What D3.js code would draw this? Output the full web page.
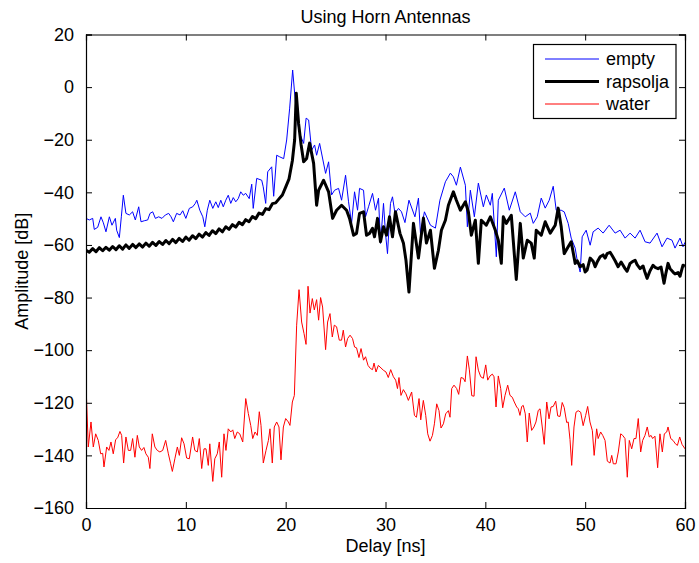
<!DOCTYPE html>
<html>
<head>
<meta charset="utf-8">
<script src="https://cdn.jsdelivr.net/npm/d3@7"></script>
<style>
  html, body { margin: 0; padding: 0; background: #fff; }
  svg { display: block; }
  text { font-family: "Liberation Sans", Arial, Helvetica, sans-serif; fill: #000; }
</style>
</head>
<body>
<svg id="chart" width="699" height="563"></svg>
<script>
const titleText = "Using Horn Antennas";
const xLabel = "Delay [ns]";
const yLabel = "Amplitude [dB]";
const xTicks = [0, 10, 20, 30, 40, 50, 60];
const yTicks = [20, 0, -20, -40, -60, -80, -100, -120, -140, -160];
const seriesNames = ["empty", "rapsolja", "water"];

const emptyDelay = [0,0.33,0.67,0.83,1.17,1.5,1.74,2.0,2.34,2.6,2.94,3.07,3.34,3.54,3.74,4.0,4.34,4.67,4.94,5.28,5.51,5.84,6.18,6.41,6.68,6.95,7.28,7.61,7.95,8.28,8.52,8.75,9.08,9.42,9.69,10.0,10.35,10.69,10.95,11.1,11.4,11.7,11.9,12.15,12.4,12.7,13.0,13.25,13.5,13.75,14.0,14.25,14.5,14.75,15.0,15.25,15.5,15.75,16.0,16.35,16.6,16.75,17.1,17.6,17.75,18.0,18.2,18.6,18.8,19.1,19.4,19.8,20.1,20.4,20.7,21.1,21.4,21.8,22.05,22.3,22.6,22.9,23.1,23.4,24.0,24.3,24.6,24.9,25.3,25.6,26.0,26.3,26.6,26.9,27.2,27.4,27.8,28.0,28.3,28.7,29.0,29.3,29.5,29.8,30.0,30.2,30.5,30.7,30.95,31.3,31.6,31.95,32.35,32.95,33.3,33.5,33.9,34.5,35.0,35.45,36.0,36.5,36.8,37.1,37.5,38.0,38.2,38.5,38.9,39.3,39.8,40.1,40.5,40.7,41.1,41.3,41.9,42.4,43.0,43.5,44.0,44.5,44.8,45.2,45.6,46.0,46.4,46.8,47.1,47.6,47.9,48.3,48.6,49.0,49.2,49.5,49.7,50.1,50.5,50.8,51.3,51.8,52.4,53.0,53.5,54.0,54.5,55.0,55.5,56.0,56.5,57.2,57.7,58.2,58.7,59.0,59.5,59.8,60];
const emptyAmp = [-49.9,-50.5,-49.9,-54.1,-53.3,-49.3,-51.6,-55,-49.3,-52.5,-49.9,-54.4,-57.2,-49.3,-41.1,-48,-48.6,-47.4,-50.5,-45.5,-51.2,-50.8,-50.5,-48,-47.4,-49.9,-49.3,-49.9,-48.6,-48,-49.3,-51.2,-48,-48.6,-47,-49.9,-46.1,-45.5,-44.2,-43,-46.8,-49.3,-53.1,-46.8,-43,-46.1,-43.6,-45.8,-43,-45.5,-43,-41.1,-44.2,-42,-43.6,-42.4,-39.8,-41.1,-40.4,-42.4,-36.9,-46.1,-34.7,-35.4,-37.9,-44.2,-32.2,-30.3,-41.5,-25.9,-26.5,-27.2,-20.1,-8,6.5,-11.3,-17.6,-21.4,-11.8,-12.5,-24,-22,-25.9,-21.4,-32.8,-28.4,-41,-39.2,-38.5,-43,-33.5,-43.6,-51.8,-39.8,-46.8,-38.5,-39.2,-49.3,-45.5,-40.4,-46.8,-42.2,-59.4,-44.2,-55.6,-63.3,-44.2,-41.7,-48,-46.1,-47.4,-51.5,-43,-49.3,-42.2,-55.5,-47.4,-52.5,-53.6,-43,-36,-32.7,-34.1,-37.3,-30.4,-37.3,-53.1,-39.2,-49.3,-36.5,-45.5,-41,-44.9,-40.4,-64.5,-43,-38.4,-46.8,-39.8,-47.4,-49.3,-47.9,-51.8,-49.3,-42.2,-46,-43,-37.7,-46.8,-46.8,-47.4,-51.8,-57.4,-61.2,-65.8,-70.3,-56.9,-54.4,-60.1,-55,-53.6,-55.5,-52.5,-55.5,-54.4,-57.4,-55.5,-57.4,-54.4,-58.8,-59.3,-55.5,-60.7,-57.4,-58.2,-61.2,-57.4,-60.7,-59];

const rapsoljaDelay = [0,0.33,0.67,1.0,1.33,1.67,2.0,2.33,2.67,3.0,3.33,3.67,4.0,4.33,4.67,5.0,5.33,5.67,6.0,6.33,6.67,7.0,7.33,7.67,8.0,8.33,8.67,9.0,9.33,9.67,10.0,10.33,10.67,11.0,11.33,11.67,12.0,12.33,12.67,13.0,13.33,13.67,14.0,14.33,14.67,15.0,15.33,15.67,16.0,16.33,16.67,17.0,17.33,17.67,18.0,18.33,18.67,19.0,19.33,19.67,20.0,20.33,20.67,20.9,21.06,21.3,21.55,21.8,22.1,22.4,22.8,23.1,23.3,23.8,24.3,24.7,25.1,25.6,26.1,26.4,26.8,27.1,27.4,27.8,28.1,28.4,28.7,28.9,29.2,29.5,29.8,30.1,30.4,30.7,31.0,31.45,31.8,32.05,32.35,32.8,33.3,33.8,34.1,34.5,34.9,35.3,35.6,36.0,36.3,36.8,37.1,37.5,38.0,38.3,38.6,39.0,39.3,39.6,40.1,40.5,41.0,41.3,41.6,41.8,42.1,42.6,43.1,43.5,43.8,44.2,44.6,44.9,45.1,45.6,46.0,46.5,47.0,47.3,47.6,47.9,48.3,48.6,49.0,49.2,49.5,49.8,50.0,50.2,50.5,50.8,51.0,51.2,51.5,51.8,52.0,52.2,52.5,52.7,53.0,53.3,53.6,54.0,54.2,54.5,54.8,55.0,55.2,55.5,55.8,56.0,56.2,56.5,56.8,57.0,57.3,57.6,57.9,58.1,58.3,58.5,58.8,59.0,59.3,59.5,59.8,60];
const rapsoljaAmp = [-62.0,-62.8,-61.4,-62.6,-61.0,-62.2,-60.9,-62.0,-60.6,-61.8,-60.3,-61.6,-60.0,-61.3,-59.8,-61.0,-59.6,-60.8,-59.3,-60.5,-59.0,-60.2,-58.7,-59.8,-58.3,-59.5,-57.9,-59.1,-57.5,-58.7,-57.0,-58.2,-56.5,-57.6,-55.9,-57.0,-55.3,-56.4,-54.6,-55.7,-53.9,-55.0,-53.1,-54.1,-52.3,-53.2,-51.4,-52.3,-50.4,-51.2,-49.2,-50.0,-47.9,-48.4,-46.2,-46.6,-44.3,-44.0,-42.5,-41.0,-38.0,-35.0,-28.0,-20.0,-2.3,-14,-22,-28.4,-27.1,-21.3,-29,-44.9,-39.2,-35.4,-39.8,-49.9,-46.8,-44.9,-46.8,-49.9,-56.3,-55.6,-48,-47.4,-56.3,-55.6,-53.7,-56.9,-49.9,-58.8,-53.1,-56.3,-49.3,-56.9,-47.4,-55.6,-59.4,-65.8,-77.9,-51.8,-65,-49.8,-59.3,-54.4,-68.9,-62,-54.4,-50.6,-44.9,-39.8,-43,-46.8,-43.6,-47.4,-56.3,-50.6,-67,-50.6,-52.5,-49.3,-54.4,-58.2,-67,-49.3,-51.8,-48.7,-73.1,-51.8,-65,-58.2,-59.3,-65,-54.4,-56.3,-51.2,-55.5,-52.5,-46,-53.1,-63.3,-60.7,-58.8,-67,-66,-68.3,-67.5,-70.3,-69.5,-65,-66.2,-68.3,-66.5,-64.5,-63.8,-65,-63.3,-62.8,-64,-66,-68.3,-66.5,-69,-70,-67,-66.2,-65.8,-67.5,-69,-68,-70.5,-72.7,-69.8,-67.7,-68.5,-69,-68.4,-74.6,-70.5,-67,-69,-70.3,-71,-70.5,-71.9,-67.7,-68];

const waterDelay = [0,0.23,0.5,0.73,0.97,1.23,1.47,1.67,1.8,2.07,2.3,2.5,2.73,2.97,3.17,3.4,3.57,3.77,4.0,4.24,4.47,4.67,4.9,5.14,5.34,5.57,5.8,6.0,6.24,6.4,6.64,6.9,7.14,7.4,7.68,7.98,8.25,8.48,8.65,8.9,9.15,9.35,9.58,9.82,10.08,10.35,10.68,10.9,11.15,11.35,11.59,11.82,12.02,12.25,12.4,12.7,12.9,13.15,13.35,13.59,13.82,14.02,14.25,14.5,14.7,14.9,15.15,15.4,15.7,16.0,16.26,16.5,16.7,16.93,17.16,17.36,17.53,17.76,18.03,18.27,18.43,18.66,18.86,19.1,19.33,19.53,19.77,20.0,20.27,20.43,20.67,20.87,21.1,21.34,21.6,21.84,22.04,22.24,22.44,22.67,22.87,23.1,23.3,23.5,23.7,24.0,24.2,24.44,24.67,24.87,25.1,25.37,25.6,25.77,26.0,26.2,26.45,26.7,26.9,27.1,27.34,27.55,27.8,28.0,28.25,28.5,28.7,28.85,29.05,29.28,29.45,29.78,30.05,30.28,30.52,30.79,31.02,31.2,31.35,31.55,31.79,32.05,32.29,32.62,32.9,33.1,33.36,33.53,33.79,34.03,34.23,34.46,34.7,34.9,35.13,35.36,35.56,35.8,36.03,36.3,36.46,36.63,36.86,37.13,37.33,37.56,37.8,37.97,38.2,38.4,38.64,38.87,39.07,39.3,39.54,39.8,40.04,40.24,40.47,40.7,40.87,41.07,41.3,41.54,41.74,41.97,42.24,42.47,42.7,42.9,43.14,43.3,43.47,43.64,43.8,44.0,44.2,44.4,44.64,44.87,45.07,45.3,45.48,45.7,45.9,46.15,46.38,46.58,46.8,47.05,47.25,47.48,47.7,47.9,48.15,48.3,48.48,48.65,48.88,49.08,49.3,49.55,49.8,50.05,50.25,50.48,50.72,50.9,51.15,51.3,51.55,51.76,51.99,52.22,52.49,52.66,52.82,53.09,53.32,53.56,53.76,53.99,54.22,54.42,54.66,54.89,55.09,55.32,55.56,55.76,55.99,56.22,56.42,56.6,56.76,56.99,57.26,57.49,57.73,57.93,58.17,58.3,58.57,58.8,59.04,59.24,59.47,59.7,60];
const waterAmp = [-113,-136.8,-127.3,-136.8,-131.8,-134.3,-139.4,-139.2,-144.4,-136.8,-138.1,-134.9,-139.4,-134,-133.3,-130.9,-132.4,-142.9,-133,-138.1,-138.1,-133.6,-140.7,-132.4,-136.8,-138.1,-137,-139.4,-140.7,-145,-131.8,-136.8,-138.1,-138.7,-138.1,-134.3,-139.4,-143.2,-146.1,-141.3,-136.8,-140,-133.3,-135.6,-141,-141.3,-133,-138.1,-138.7,-133.6,-145,-137.5,-137.5,-143.8,-135.6,-149.9,-141.3,-139.4,-134.9,-148.3,-131.8,-138.1,-129.9,-131.1,-130.3,-133.6,-131.1,-131.8,-134.9,-118.4,-124.1,-128.6,-133.6,-131.1,-132.4,-123.4,-128.6,-142.9,-138.1,-134.3,-129.9,-142.9,-129.2,-127.3,-129.2,-141.7,-129.2,-126,-127.3,-128.6,-119.7,-117.2,-90.5,-77,-89.3,-93.7,-97.8,-75.7,-85.9,-80.4,-84.7,-80.8,-88.6,-80,-83.6,-99.8,-89.3,-86.1,-95,-90.5,-91.1,-96.2,-96.2,-92.4,-98.8,-95.6,-94.3,-95.6,-98.8,-99.1,-102.8,-99.4,-103.8,-102.5,-105.8,-107,-107.4,-104.9,-108.3,-105.8,-106.4,-107.6,-108.3,-110.4,-107.4,-110.1,-111.4,-114.6,-110.4,-117.2,-115,-116.6,-119.1,-115.9,-124.8,-125.5,-118.4,-126.5,-119.1,-124.8,-131.8,-134.6,-132.4,-128,-120.4,-123,-129.6,-128,-124.2,-123,-125.5,-114.6,-113.3,-114.6,-116.8,-110.4,-110.7,-112,-102.2,-107.5,-117.3,-117.5,-102.5,-107.6,-110.1,-110.7,-105.6,-111.4,-109.8,-109.1,-110.1,-121.6,-109.8,-114.6,-121.9,-117.2,-113.3,-117.2,-117.9,-119.7,-121.6,-122.3,-124.8,-121.4,-121,-124.2,-134.9,-123.9,-130.5,-129.2,-127.3,-122.9,-122.3,-129.2,-135.8,-119.7,-126.1,-121.6,-121.4,-119.4,-125,-125.2,-119.9,-121.8,-127.5,-127.3,-133.9,-143.8,-129.2,-123.6,-123,-123.6,-128.7,-124.8,-121.4,-127.3,-130.6,-140,-129.9,-133.6,-131.1,-132.4,-134.3,-142.2,-142.9,-140,-143.2,-143.2,-138.7,-131.8,-132.4,-133.6,-148.3,-134.3,-137.5,-133.6,-133.6,-126,-138.7,-134.3,-132.4,-129.2,-133,-132.4,-133.6,-132.7,-144.7,-131.8,-138.7,-131.8,-131.1,-129.2,-133.6,-134.3,-135.6,-136.2,-133,-135.8,-137.5];

const svg = d3.select("#chart");
const plot = { left: 86, right: 685, top: 34.5, bottom: 508 };
const x = d3.scaleLinear().domain([0, 60]).range([plot.left, plot.right]);
const y = d3.scaleLinear().domain([-160, 20]).range([plot.bottom, plot.top]);
const FS = 18;

svg.append("rect").attr("x", 0).attr("y", 0).attr("width", 699).attr("height", 563).attr("fill", "#fff");

const clip = svg.append("defs").append("clipPath").attr("id", "clip")
  .append("rect").attr("x", plot.left).attr("y", plot.top)
  .attr("width", plot.right - plot.left).attr("height", plot.bottom - plot.top);

const series = [
  { name: seriesNames[0], xs: emptyDelay, ys: emptyAmp, color: "#0000ff", width: 1 },
  { name: seriesNames[1], xs: rapsoljaDelay, ys: rapsoljaAmp, color: "#000000", width: 3 },
  { name: seriesNames[2], xs: waterDelay, ys: waterAmp, color: "#ff0000", width: 1 }
];

const line = d3.line().x(d => x(d[0])).y(d => y(d[1]));
const g = svg.append("g").attr("clip-path", "url(#clip)");
series.forEach(s => {
  const pts = s.xs.map((v, i) => [v, s.ys[i]]);
  g.append("path").datum(pts).attr("d", line)
    .attr("fill", "none").attr("stroke", s.color).attr("stroke-width", s.width)
    .attr("stroke-linejoin", "round");
});

// axes (MATLAB style box with inward ticks)
const axB = d3.axisBottom(x).tickValues(xTicks).tickSize(-6).tickPadding(10).tickFormat(d3.format("d"));
const axT = d3.axisTop(x).tickValues(xTicks).tickSize(-6).tickFormat("");
const fmtY = d => (d < 0 ? "\u2212" + Math.abs(d) : String(d));
const axL = d3.axisLeft(y).tickValues(yTicks).tickSize(-6).tickPadding(12).tickFormat(fmtY);
const axR = d3.axisRight(y).tickValues(yTicks).tickSize(-6).tickFormat("");

function style(sel) {
  sel.select(".domain").attr("stroke", "#000").attr("stroke-width", 1.2);
  sel.selectAll(".tick line").attr("stroke", "#000").attr("stroke-width", 1);
  sel.selectAll("text").attr("font-size", FS).attr("font-family", "Liberation Sans, Arial, sans-serif").attr("fill", "#000");
}
svg.append("g").attr("transform", `translate(0,${plot.bottom})`).call(axB).call(style)
  .selectAll("text").attr("dy", "0.71em");
svg.append("g").attr("transform", `translate(0,${plot.top})`).call(axT).call(style);
svg.append("g").attr("transform", `translate(${plot.left},0)`).call(axL).call(style);
svg.append("g").attr("transform", `translate(${plot.right},0)`).call(axR).call(style);
svg.selectAll(".domain").each(function(){ d3.select(this).attr("d", d3.select(this).attr("d")); });

// title and labels
svg.append("text").attr("x", (plot.left + plot.right) / 2).attr("y", 23)
  .attr("text-anchor", "middle").attr("font-size", FS).text(titleText);
svg.append("text").attr("x", (plot.left + plot.right) / 2).attr("y", 552)
  .attr("text-anchor", "middle").attr("font-size", FS).text(xLabel);
svg.append("text").attr("transform", `translate(28,${(plot.top + plot.bottom) / 2}) rotate(-90)`)
  .attr("text-anchor", "middle").attr("font-size", FS).text(yLabel);

// legend
const lg = svg.append("g");
lg.append("rect").attr("x", 533.5).attr("y", 44.5).attr("width", 142.5).attr("height", 74)
  .attr("fill", "#fff").attr("stroke", "#000").attr("stroke-width", 1.2);
const rowY = [59, 81.5, 104];
series.forEach((s, i) => {
  lg.append("line").attr("x1", 545).attr("x2", 599).attr("y1", rowY[i]).attr("y2", rowY[i])
    .attr("stroke", s.color).attr("stroke-width", s.width);
  lg.append("text").attr("x", 606).attr("y", rowY[i]).attr("dy", "0.35em")
    .attr("font-size", FS).text(s.name);
});
</script>
</body>
</html>
